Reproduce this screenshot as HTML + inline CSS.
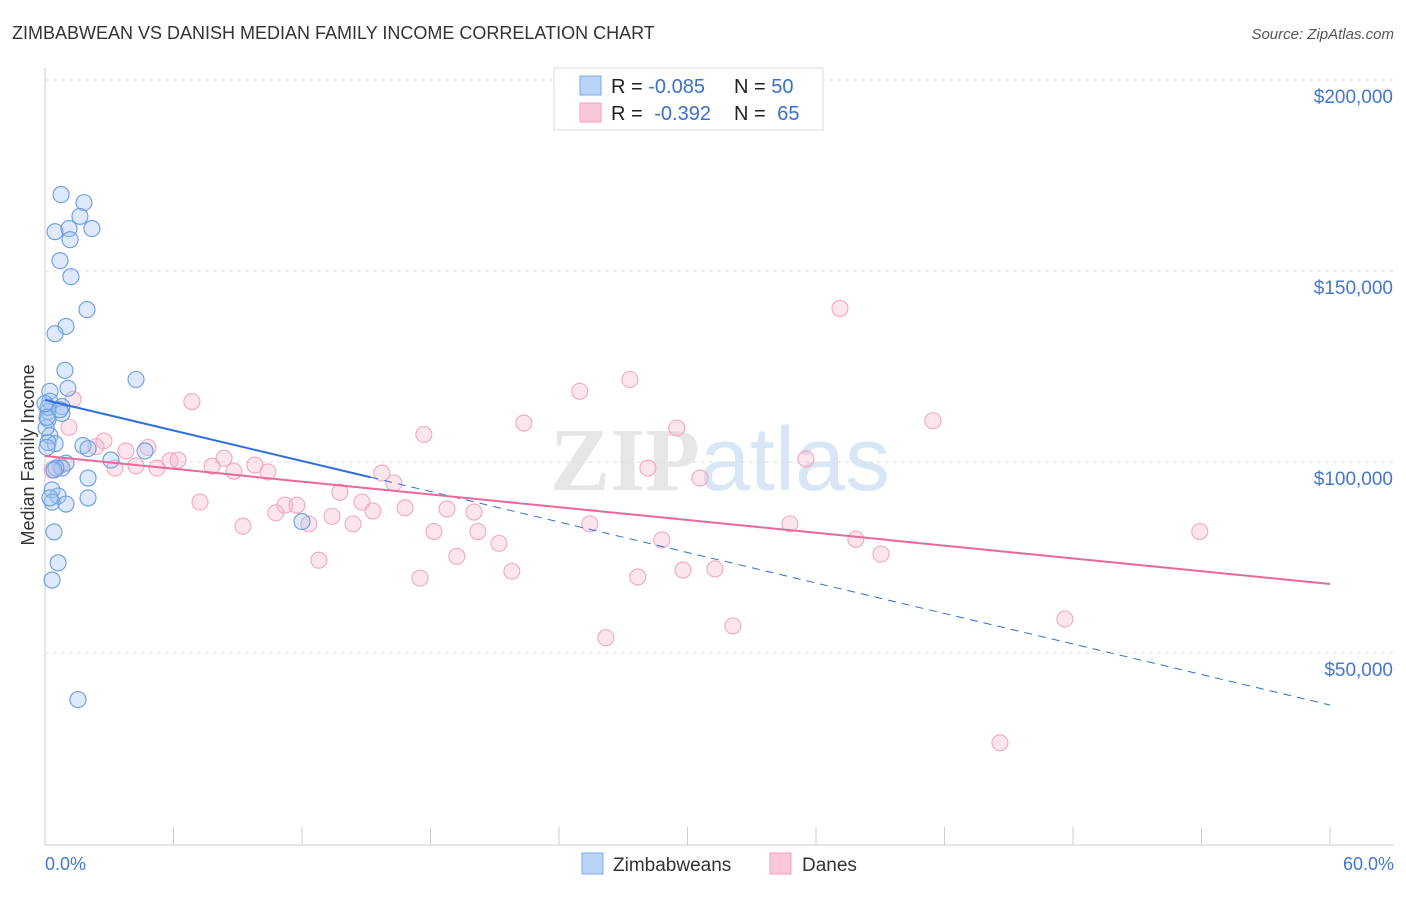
<!DOCTYPE html>
<html><head><meta charset="utf-8"><style>
body{margin:0;background:#fff;font-family:"Liberation Sans",sans-serif;}
</style></head><body>
<svg width="1406" height="892" xmlns="http://www.w3.org/2000/svg" font-family="Liberation Sans, sans-serif">
<text x="12" y="39" font-size="18" fill="#333">ZIMBABWEAN VS DANISH MEDIAN FAMILY INCOME CORRELATION CHART</text>
<text x="1394" y="39" font-size="15" fill="#555" font-style="italic" text-anchor="end">Source: ZipAtlas.com</text>
<text x="720" y="490" font-size="90" text-anchor="middle" fill="#e6e6e6" font-family="Liberation Serif, serif" font-weight="bold">ZIP<tspan fill="#d8e6f5" font-family="Liberation Sans, sans-serif" font-weight="normal">atlas</tspan></text>
<g id="grid"></g>
<g id="axes"></g>
<g id="marks"></g>
<text transform="translate(34,455) rotate(-90)" font-size="18" fill="#333" text-anchor="middle">Median Family Income</text>
<text x="45" y="870" font-size="18" fill="#4477cc">0.0%</text>
<text x="1394" y="870" font-size="18" fill="#4477cc" text-anchor="end">60.0%</text>
<g>
<rect x="554" y="68" width="269" height="62" fill="#fff" stroke="#ddd"/>
<rect x="580" y="76" width="21" height="19" fill="#b8d4f6" stroke="#7aa8e8"/>
<rect x="580" y="103" width="21" height="19" fill="#fcc8d8" stroke="#eea0b8"/>
<text x="611" y="93" font-size="20" fill="#222">R = <tspan fill="#3a70cc">-0.085</tspan><tspan x="734">N = </tspan><tspan fill="#3a70cc">50</tspan></text>
<text x="611" y="120" font-size="20" fill="#222">R = <tspan fill="#3a70cc" dx="6">-0.392</tspan><tspan x="734">N = </tspan><tspan fill="#3a70cc" dx="6">65</tspan></text>
</g>
<g>
<rect x="582" y="853" width="21" height="21" fill="#b8d4f6" stroke="#7aa8e8"/>
<text x="613" y="871" font-size="19" fill="#333">Zimbabweans</text>
<rect x="770" y="853" width="21" height="21" fill="#fcc8d8" stroke="#eea0b8"/>
<text x="802" y="871" font-size="19" fill="#333">Danes</text>
</g>
</svg>
<script>
const yTicks=[50000,100000,150000,200000];
const yTickLabels=["$50,000","$100,000","$150,000","$200,000"];
const blueX=[0.75,1.82,1.63,0.47,1.12,2.19,1.17,0.7,1.21,1.96,0.98,0.47,4.25,0.93,1.07,0.23,0.23,0.79,0.14,0.79,0.14,0.23,0.47,0.14,1.77,2.01,4.67,3.08,0.98,0.79,0.51,2.01,0.33,0.61,0.33,0.98,2.01,0.42,0.61,0.33,1.54,12.0,0.05,0.14,0.09,0.42,0.23,0.09,0.7,0.0];
const blueY=[170000,167900,164300,160300,161100,161100,158200,152700,148500,139900,135500,133600,121600,124000,119300,118500,115900,114500,113200,112700,111100,106900,104800,105100,104300,103500,102900,100500,99700,98400,98400,95800,92700,91100,89500,89000,90600,81700,73600,69100,37800,84400,109000,114300,111700,97900,90600,103800,113700,115300];
const pinkX=[1.31,1.12,0.33,0.7,2.75,2.38,3.27,3.78,4.81,5.23,4.25,5.84,6.21,6.86,7.24,7.8,8.36,8.82,9.24,9.8,10.41,10.78,11.2,11.76,12.32,12.79,13.4,13.77,14.38,14.8,15.31,15.73,16.29,16.81,17.69,18.16,17.51,18.77,19.23,20.03,20.21,21.2,21.8,22.36,24.97,25.44,26.19,27.31,27.68,28.15,29.5,28.8,29.79,30.58,31.28,32.12,34.78,35.53,37.12,37.86,39.03,41.46,44.59,47.62,53.92];
const pinkY=[116400,109100,97900,99000,105500,104000,98400,102900,103800,98400,99000,100300,100500,115800,89500,98900,101000,97600,83200,99200,97400,86700,88700,88700,83800,74300,85800,92100,83800,89500,87200,97100,94500,88000,107200,81800,69600,87700,75300,86900,81800,78700,71400,110200,118500,83800,54000,121600,69900,98400,108900,79600,71700,95800,72000,57100,83800,100800,140200,79800,75900,110800,26500,58900,81800];
const trendBlue=[116230,36390];
const trendPink=[101570,68060];
const NS="http://www.w3.org/2000/svg";
const xs=v=>45+v*(1285/60);
const ys=v=>80+(200000-v)/50000*191;
function mk(t,a,p){const e=document.createElementNS(NS,t);for(const k in a)e.setAttribute(k,a[k]);p.appendChild(e);return e;}
const grid=document.getElementById('grid'),axes=document.getElementById('axes'),marks=document.getElementById('marks');
yTicks.forEach((v,i)=>{
 const l=mk('line',{x1:45,x2:1394,y1:ys(v),y2:ys(v),stroke:'#ddd','stroke-dasharray':'4,4'},grid);
 
 
 const t=mk('text',{x:1393,y:ys(v)+23,'font-size':19,fill:'#4477cc','text-anchor':'end'},grid);
 t.textContent=yTickLabels[i];
 
 
});
let ax=mk('line',{x1:45,x2:45,y1:68,y2:845,stroke:'#ccc'},axes);


ax=mk('line',{x1:45,x2:1394,y1:845,y2:845,stroke:'#ccc'},axes);


for(let i=0;i<=10;i++){
 const tk=mk('line',{x1:xs(i*6),x2:xs(i*6),y1:827,y2:845,stroke:'#ccc'},axes);
 
 
}
pinkX.forEach((x,i)=>{
 const c=mk('circle',{cx:xs(x),cy:ys(pinkY[i]),r:8,fill:'rgba(248,180,204,0.35)',stroke:'#f0a8c0','stroke-width':1.1},marks);
 
 
});
blueX.forEach((x,i)=>{
 const c=mk('circle',{cx:xs(x),cy:ys(blueY[i]),r:8,fill:'rgba(160,196,244,0.35)',stroke:'#6a9ce0','stroke-width':1.1},marks);
 
 
});
const bAt=x=>trendBlue[0]+(trendBlue[1]-trendBlue[0])*x/60;
let l=mk('line',{x1:xs(0),y1:ys(bAt(0)),x2:xs(15.2),y2:ys(bAt(15.2)),stroke:'#2f6fd8','stroke-width':2},marks);


l=mk('line',{x1:xs(15.2),y1:ys(bAt(15.2)),x2:xs(60),y2:ys(bAt(60)),stroke:'#2f6fd8','stroke-width':1,'stroke-dasharray':'8,6'},marks);


l=mk('line',{x1:xs(0),y1:ys(trendPink[0]),x2:xs(60),y2:ys(trendPink[1]),stroke:'#e8699a','stroke-width':2},marks);


</script>
</body></html>
